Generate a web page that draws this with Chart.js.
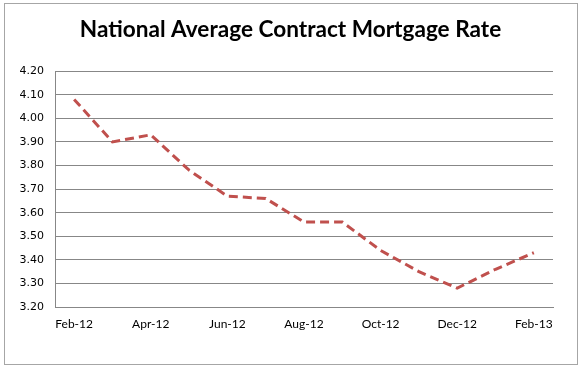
<!DOCTYPE html>
<html>
<head>
<meta charset="utf-8">
<script src="https://cdn.jsdelivr.net/npm/chart.js@4/dist/chart.umd.min.js"></script>
<style>
  html, body { margin: 0; padding: 0; background: #fff; }
  #wrap { position: relative; width: 581px; height: 368px; }
  #frame { position: absolute; left: 4px; top: 3px; width: 572px; height: 360px;
           border: 1px solid #a6a6a6; pointer-events: none; }
  canvas { position: absolute; left: 0; top: 0; }
</style>
</head>
<body>
<div id="wrap">
  <canvas id="chart" width="581" height="368"></canvas>
  <div id="frame"></div>
</div>
<script>
// monthly categories, Feb-12 .. Feb-13
const months = [ 'Feb-12', 'Mar-12', 'Apr-12', 'May-12', 'Jun-12', 'Jul-12', 'Aug-12',
                 'Sep-12', 'Oct-12', 'Nov-12', 'Dec-12', 'Jan-13', 'Feb-13' ];
// contract mortgage rate, percent
const rates = [ 4.08, 3.90, 3.93, 3.78, 3.67, 3.66, 3.56, 3.56, 3.44, 3.35, 3.28, 3.36, 3.43 ];
const yMin = 3.20;
const yMax = 4.20;
const yStep = 0.10;

const gridColor = '#878787';

new Chart( document.getElementById( 'chart' ), {
	type: 'line',
	data: {
		labels: months,
		datasets: [ {
			data: rates,
			borderColor: '#c0504d',
			borderWidth: 3,
			borderDash: [ 9, 5 ],
			pointRadius: 0,
			tension: 0,
			fill: false
		} ]
	},
	options: {
		responsive: false,
		animation: false,
		layout: { padding: 0 },
		plugins: {
			legend: { display: false },
			tooltip: { enabled: false },
			title: {
				display: true,
				text: 'National Average Contract Mortgage Rate',
				color: '#000',
				font: { family: 'Lato', size: 22.6, weight: 'bold' },
				padding: { top: 16, bottom: 28 }
			}
		},
		scales: {
			x: {
				offset: true,
				grid: { display: false, drawTicks: false },
				border: { color: gridColor, width: 1 },
				ticks: {
					autoSkip: false,
					maxRotation: 0,
					padding: 10,
					color: '#000',
					font: { family: 'Lato', size: 12 },
					callback: function( value, index ) {
						return index % 2 === 0 ? months[ index ] : '';
					}
				},
				afterFit: function( scale ) { scale.height = 61; }
			},
			y: {
				min: yMin,
				max: yMax,
				grid: { color: gridColor, drawTicks: false },
				border: { color: gridColor, width: 1 },
				ticks: {
					stepSize: yStep,
					padding: 11,
					color: '#000',
					font: { family: 'DejaVu Sans', size: 11 },
					callback: function( value ) { return value.toFixed( 2 ); }
				},
				afterFit: function( scale ) { scale.width = 55; }
			},
			// empty right-hand axis, only keeps the plot clear of the right edge
			yRight: {
				position: 'right',
				min: yMin,
				max: yMax,
				grid: { display: false, drawTicks: false },
				border: { display: false },
				ticks: { display: false },
				afterFit: function( scale ) { scale.width = 28; }
			}
		}
	}
} );
</script>
</body>
</html>
